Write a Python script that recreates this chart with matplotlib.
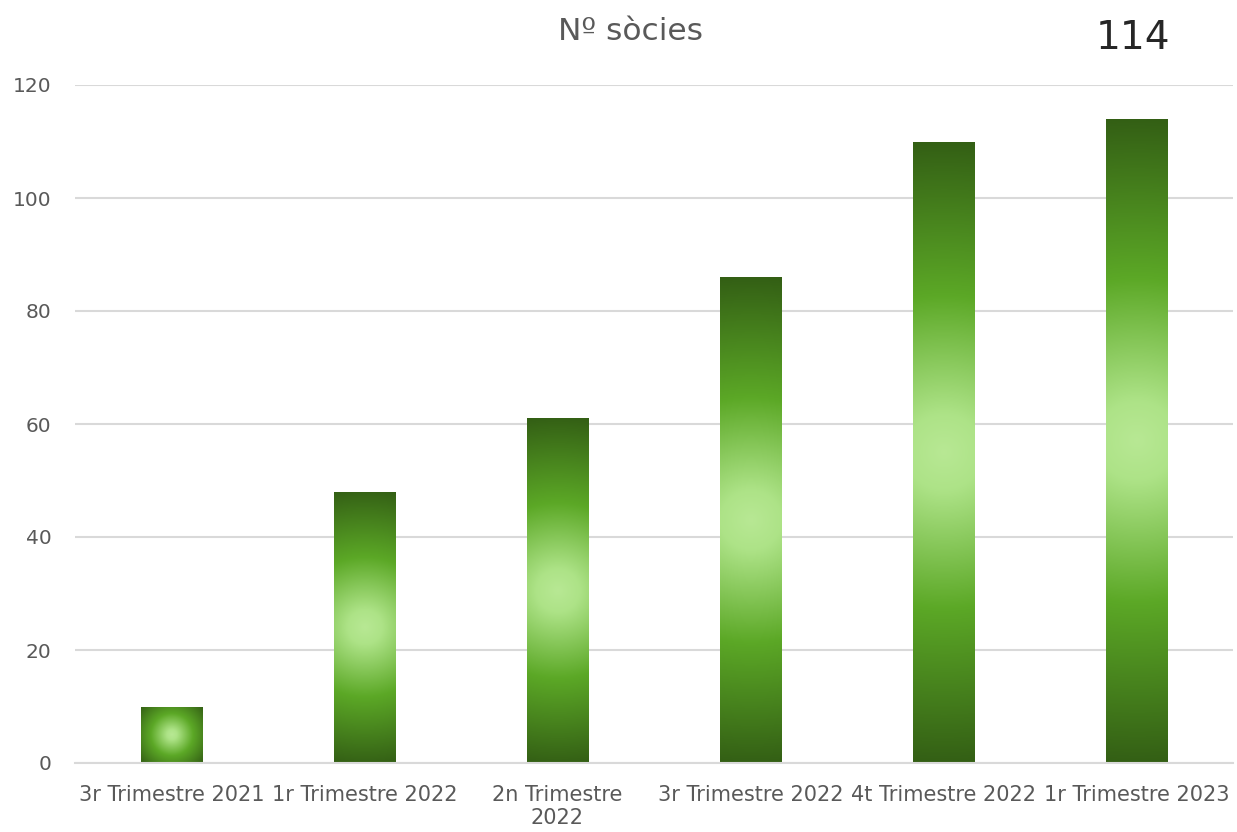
import numpy as np
import matplotlib
matplotlib.use("Agg")
import matplotlib.pyplot as plt
import matplotlib.transforms as mtransforms
from matplotlib.colors import LinearSegmentedColormap

categories = ["3r Trimestre 2021", "1r Trimestre 2022", "2n Trimestre\n2022",
              "3r Trimestre 2022", "4t Trimestre 2022", "1r Trimestre 2023"]
values = [10, 48, 61, 86, 110, 114]
yticks = [0, 20, 40, 60, 80, 100, 120]
title = "Nº sòcies"
last_label = "114"

W, H = 1237, 832
fig = plt.figure(figsize=(W / 100, H / 100), dpi=100)
ax = fig.add_axes([75 / W, 1 - 763 / H, (1233 - 75) / W, (763 - 85) / H])

x = np.arange(len(categories))
bar_w = 0.32
ax.set_xlim(-0.5, len(categories) - 0.5)
ax.set_ylim(0, 120)
ax.set_axisbelow(True)
ax.yaxis.grid(True, color="#d9d9d9", linewidth=1.5)
for s in ["top", "right", "left"]:
    ax.spines[s].set_visible(False)
ax.spines["bottom"].set_color("#d9d9d9")
ax.spines["bottom"].set_linewidth(1.5)
ax.set_yticks(yticks)
ax.set_xticks(x)
ax.set_xticklabels(categories, fontsize=15, color="#595959", linespacing=1.15)
ax.tick_params(axis="y", labelsize=14.5, labelcolor="#595959", length=0, pad=17)
ax.tick_params(axis="x", length=0, pad=16)

bars = ax.bar(x, values, width=bar_w, color="none", edgecolor="none", zorder=2)

cmap = LinearSegmentedColormap.from_list("g", [
    (0.0, (0.72, 0.91, 0.58)),
    (0.12, (0.68, 0.89, 0.53)),
    (0.5, (0.36, 0.66, 0.15)),
    (1.0, (0.20, 0.37, 0.08)),
])

fig.canvas.draw()
for b in bars:
    x0, y0 = b.get_x(), b.get_y()
    bw, bh = b.get_width(), b.get_height()
    p0 = ax.transData.transform((x0, y0))
    p1 = ax.transData.transform((x0 + bw, y0 + bh))
    wp, hp = abs(p1[0] - p0[0]), abs(p1[1] - p0[1])
    nx, ny = max(int(wp), 2), max(int(hp), 2)
    xs = (np.arange(nx) + 0.5) - nx / 2
    ys = (np.arange(ny) + 0.5) - ny / 2
    XX, YY = np.meshgrid(xs, ys)
    r = np.sqrt(XX ** 2 + YY ** 2) / np.sqrt((nx / 2) ** 2 + (ny / 2) ** 2)
    im = ax.imshow(r, cmap=cmap, vmin=0, vmax=1, extent=(x0, x0 + bw, y0, y0 + bh),
                   aspect="auto", origin="lower", zorder=2, interpolation="bilinear")
    im.set_clip_path(b)

fig.text(630 / W, 1 - 32 / H, title, ha="center", va="center", fontsize=22.5, color="#595959")
trans = mtransforms.blended_transform_factory(ax.transData, fig.transFigure)
ax.text(x[-1] - 0.02, 1 - 38 / H, last_label, ha="center", va="center", fontsize=28,
        color="#262626", transform=trans)

fig.savefig("out.png", dpi=100)
